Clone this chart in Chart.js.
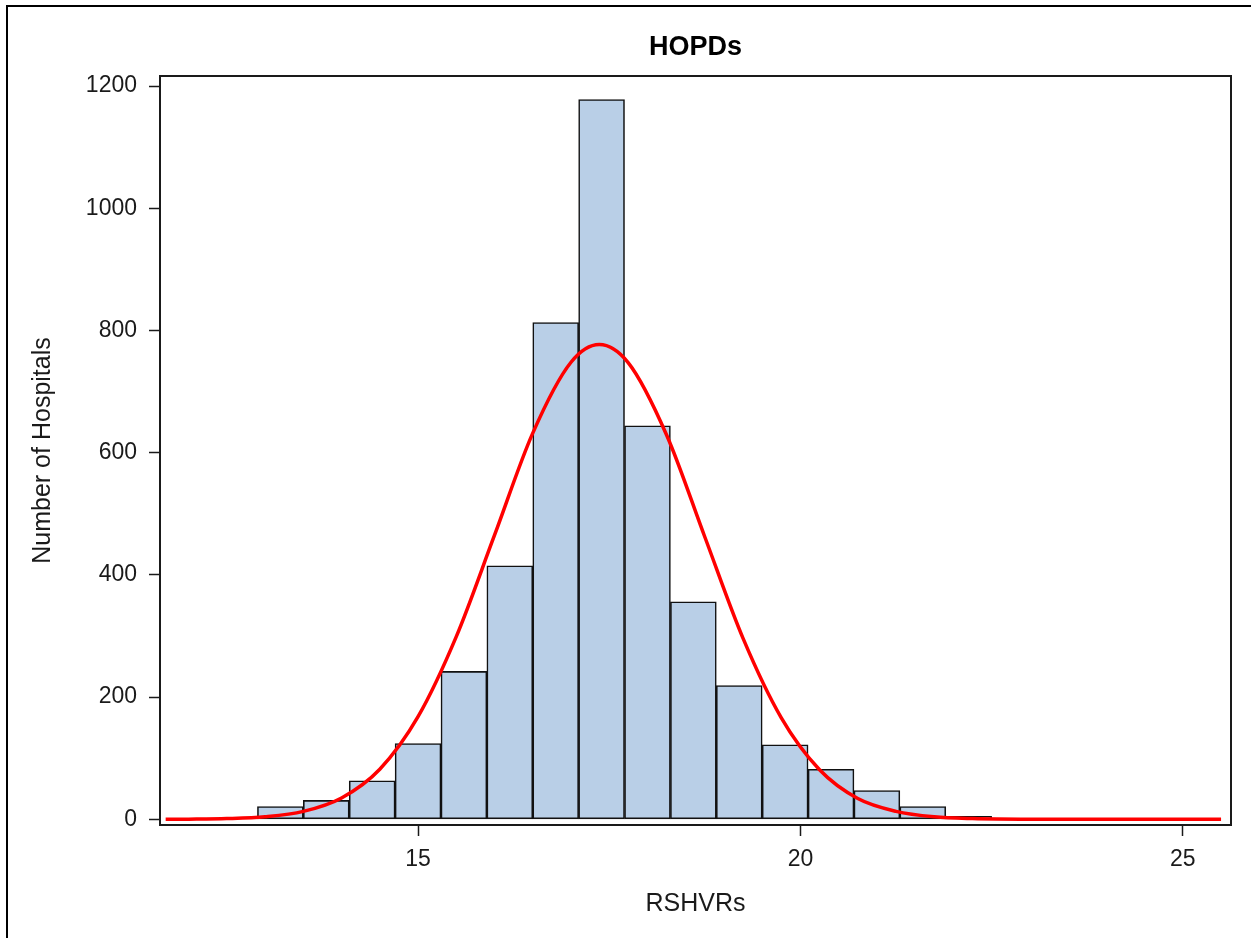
<!DOCTYPE html>
<html lang="en">
<head>
<meta charset="UTF-8" />
<title>HOPDs</title>
<script src="https://cdn.jsdelivr.net/npm/chart.js"></script>
<style>
  html, body { margin: 0; padding: 0; background: #fff; overflow: hidden; }
  canvas { display: block; }
</style>
</head>
<body>
<canvas id="histChart" width="1251" height="938"></canvas>
<script>
// histogram bins (width 0.6, from 12.9 to 22.5)
const binCenters = [13.2, 13.8, 14.4, 15.0, 15.6, 16.2, 16.8, 17.4, 18.0, 18.6, 19.2, 19.8, 20.4, 21.0, 21.6, 22.2];
const binCounts = [21, 31, 63, 124, 242, 415, 813, 1178, 644, 356, 219, 122, 82, 47, 21, 5];

// red normal curve
const curveX = [11.7, 12.0, 12.5, 13.0, 13.5, 14.0, 14.5, 15.0, 15.5, 16.0, 16.5, 17.0, 17.37, 17.75, 18.25, 18.75, 19.25, 19.75, 20.25, 20.75, 21.25, 21.75, 22.25, 23.0, 24.0, 25.5];
const curveY = [0.1, 0.3, 1.2, 4.2, 13, 35, 82, 168, 299, 465, 632, 748, 777, 747, 629, 462, 296, 166, 81, 34, 13, 4.1, 1.2, 0.1, 0, 0];

const xTicks = [15, 20, 25];
const yTicks = [0, 200, 400, 600, 800, 1000, 1200];

const FONT = "'Liberation Sans', Arial, sans-serif";
const INK = '#1a1a1a';

// frame around the plot area + outer page border
const framePlugin = {
  id: 'frame',
  afterDatasetsDraw(chart) {
    const { ctx, chartArea: a } = chart;
    ctx.save();
    ctx.strokeStyle = INK;
    ctx.lineWidth = 2;
    ctx.strokeRect(a.left, a.top, a.right - a.left, a.bottom - a.top);
    ctx.strokeStyle = '#000';
    ctx.beginPath();
    ctx.moveTo(7, chart.height);
    ctx.lineTo(7, 6);
    ctx.lineTo(chart.width, 6);
    ctx.stroke();
    ctx.restore();
  }
};

new Chart(document.getElementById('histChart'), {
  data: {
    datasets: [{
      type: 'line',
      order: 0,
      data: curveX.map((x, i) => ({ x, y: curveY[i] })),
      borderColor: '#ff0000',
      borderWidth: 3.5,
      pointRadius: 0,
      fill: false,
      cubicInterpolationMode: 'monotone'
    }, {
      type: 'bar',
      order: 1,
      data: binCenters.map((x, i) => ({ x, y: binCounts[i] })),
      backgroundColor: '#b9cfe7',
      borderColor: '#111',
      borderWidth: 1.6,
      borderSkipped: false,
      barPercentage: 1,
      categoryPercentage: 1
    }]
  },
  options: {
    responsive: false,
    animation: false,
    layout: { padding: { left: 0, right: 20, top: 0, bottom: 0 } },
    plugins: {
      legend: { display: false },
      tooltip: { enabled: false },
      title: {
        display: true,
        text: 'HOPDs',
        fullSize: false,
        color: '#000',
        font: { family: FONT, size: 27, weight: 'bold' },
        padding: { top: 31, bottom: 12.6 }
      }
    },
    scales: {
      x: {
        type: 'linear',
        offset: false,
        min: 11.626,
        max: 25.63,
        afterBuildTicks: s => { s.ticks = xTicks.map(v => ({ value: v })); },
        afterFit: s => { s.height = 113; },
        grid: { offset: false, drawOnChartArea: false, drawTicks: true, tickLength: 11, tickColor: INK, tickWidth: 1.5 },
        border: { display: false },
        ticks: { color: INK, padding: 10, font: { family: FONT, size: 23 }, maxRotation: 0, callback: v => String(v) },
        title: { display: true, text: 'RSHVRs', color: INK, font: { family: FONT, size: 25 }, padding: { top: 0, bottom: 19 } }
      },
      y: {
        type: 'linear',
        min: -9.3,
        max: 1216.4,
        afterBuildTicks: s => { s.ticks = yTicks.map(v => ({ value: v })); },
        afterFit: s => { s.width = 160; },
        grid: { drawOnChartArea: false, drawTicks: true, tickLength: 11, tickColor: INK, tickWidth: 1.5 },
        border: { display: false },
        ticks: { color: INK, padding: 12, font: { family: FONT, size: 23 }, callback: v => String(v) },
        title: { display: true, text: 'Number of Hospitals', color: INK, font: { family: FONT, size: 25 }, padding: { top: 28, bottom: 0 } }
      }
    }
  },
  plugins: [framePlugin]
});
</script>
</body>
</html>
